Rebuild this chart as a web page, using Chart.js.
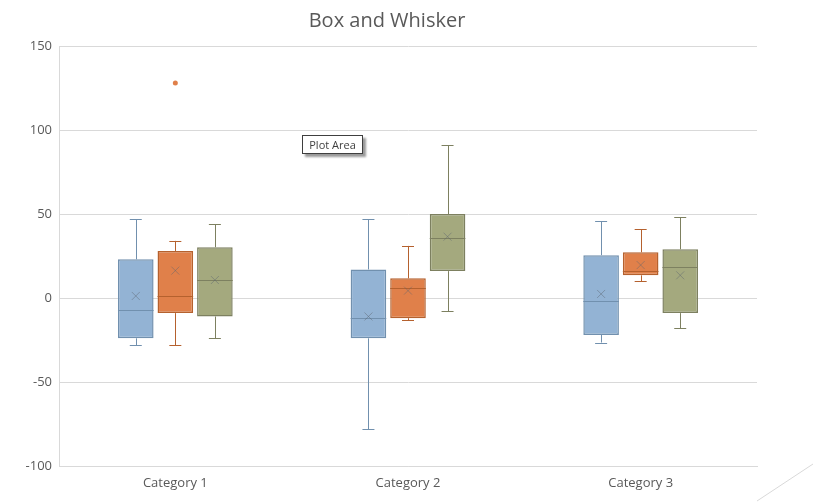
<!DOCTYPE html>
<html>
<head>
<meta charset="utf-8">
<script src="https://cdn.jsdelivr.net/npm/chart.js@4.4.1/dist/chart.umd.min.js"></script>
<style>
  html, body { margin: 0; padding: 0; background: #fff; }
  #wrap { position: relative; width: 813px; height: 502px; }
  #tip {
    position: absolute; left: 302px; top: 135px; width: 59px; height: 17px;
    background: #fff; border: 1px solid #3f3f3f; box-shadow: 3px 3px 2px #9a9a9a;
    font: 11px "Open Sans", sans-serif; color: #3f3f3f; line-height: 17px; text-align: center;
  }
  #corner { position: absolute; left: 0; top: 0; pointer-events: none; }
</style>
</head>
<body>
<div id="wrap">
  <canvas id="boxChart" width="813" height="502"></canvas>
  <div id="tip">Plot Area</div>
  <svg id="corner" width="813" height="502"><line x1="757" y1="501" x2="813" y2="464" stroke="#d9d9d9" stroke-width="1"/></svg>
</div>
<script>
const categories = ['Category 1', 'Category 2', 'Category 3'];
const seriesNames = ['Series 1', 'Series 2', 'Series 3'];

// per series, one entry per category
const whiskerLow = [[-28, -78, -26.5], [-28, -13.3, 10], [-24, -8, -18]];
const q1 = [[-24, -24, -22], [-9, -12, 13.5], [-11, 16, -9]];
const median = [[-7.3, -12, -2], [1, 6, 16], [10.5, 35.5, 18.3]];
const q3 = [[23, 17, 25.5], [28, 11.7, 27.2], [30.2, 50, 29]];
const whiskerHigh = [[47, 47, 45.6], [34, 31, 41], [44, 91, 48]];
const means = [[1.2, -11, 2.4], [16.3, 4.4, 19.6], [10.7, 36.5, 13.5]];
const outliers = [[[], [], []], [[128], [], []], [[], [], []]];

const yTicks = [-100, -50, 0, 50, 100, 150];

const fills = ['#93b3d4', '#e0804a', '#a4a97e'];
const borders = ['#7190ae', '#b5612e', '#7d8060'];

const boxPlugin = {
  id: 'boxParts',
  afterDatasetsDraw(chart) {
    const ctx = chart.ctx;
    const y = chart.scales.y;
    ctx.save();
    chart.data.datasets.forEach((ds, s) => {
      const meta = chart.getDatasetMeta(s);
      meta.data.forEach((bar, c) => {
        const x = bar.x;
        const half = bar.width / 2;
        const cap = 6;
        ctx.strokeStyle = borders[s];
        ctx.lineWidth = 1;
        ctx.beginPath();
        // upper whisker
        ctx.moveTo(Math.round(x) + 0.5, y.getPixelForValue(whiskerHigh[s][c]));
        ctx.lineTo(Math.round(x) + 0.5, y.getPixelForValue(q3[s][c]));
        ctx.moveTo(x - cap, Math.round(y.getPixelForValue(whiskerHigh[s][c])) + 0.5);
        ctx.lineTo(x + cap, Math.round(y.getPixelForValue(whiskerHigh[s][c])) + 0.5);
        // lower whisker
        ctx.moveTo(Math.round(x) + 0.5, y.getPixelForValue(q1[s][c]));
        ctx.lineTo(Math.round(x) + 0.5, y.getPixelForValue(whiskerLow[s][c]));
        ctx.moveTo(x - cap, Math.round(y.getPixelForValue(whiskerLow[s][c])) + 0.5);
        ctx.lineTo(x + cap, Math.round(y.getPixelForValue(whiskerLow[s][c])) + 0.5);
        // median
        ctx.moveTo(x - half, Math.round(y.getPixelForValue(median[s][c])) + 0.5);
        ctx.lineTo(x + half, Math.round(y.getPixelForValue(median[s][c])) + 0.5);
        ctx.stroke();
        // mean marker
        const my = y.getPixelForValue(means[s][c]);
        ctx.strokeStyle = 'rgba(90,100,110,0.45)';
        ctx.beginPath();
        ctx.moveTo(x - 4, my - 4); ctx.lineTo(x + 4, my + 4);
        ctx.moveTo(x + 4, my - 4); ctx.lineTo(x - 4, my + 4);
        ctx.stroke();
        // outliers
        ctx.fillStyle = fills[s];
        outliers[s][c].forEach((v) => {
          ctx.beginPath();
          ctx.arc(x, y.getPixelForValue(v), 2.5, 0, Math.PI * 2);
          ctx.fill();
        });
      });
    });
    ctx.restore();
  }
};

const datasets = seriesNames.map((name, s) => ({
  label: name,
  data: categories.map((_, c) => [q1[s][c], q3[s][c]]),
  backgroundColor: fills[s],
  borderColor: borders[s],
  borderWidth: 1.5,
  borderSkipped: false,
  categoryPercentage: 0.51,
  barPercentage: 0.9,
}));

new Chart(document.getElementById('boxChart'), {
  type: 'bar',
  data: { labels: categories, datasets },
  plugins: [boxPlugin],
  options: {
    responsive: false,
    animation: false,
    layout: { padding: { left: 17, right: 56, top: 4, bottom: 0 } },
    plugins: {
      legend: { display: false },
      tooltip: { enabled: false },
      title: {
        display: true,
        text: 'Box and Whisker',
        color: '#595959',
        font: { family: '"Open Sans", sans-serif', size: 20, weight: 'normal' },
        padding: { top: 5, bottom: 13 },
      },
    },
    scales: {
      x: {
        grid: { display: false, drawTicks: false },
        border: { display: true, color: '#d9d9d9' },
        ticks: { color: '#595959', font: { family: '"Open Sans", sans-serif', size: 13 }, padding: 9 },
        afterFit(scale) { scale.height = 36; },
      },
      y: {
        min: -100,
        max: 150,
        afterBuildTicks(scale) { scale.ticks = yTicks.map((v) => ({ value: v })); },
        grid: { color: '#d9d9d9', drawTicks: false },
        border: { display: true, color: '#d9d9d9' },
        ticks: { color: '#595959', font: { family: '"Open Sans", sans-serif', size: 13 }, padding: 7 },
        afterFit(scale) { scale.width = 42; },
      },
    },
  },
});
</script>
</body>
</html>
